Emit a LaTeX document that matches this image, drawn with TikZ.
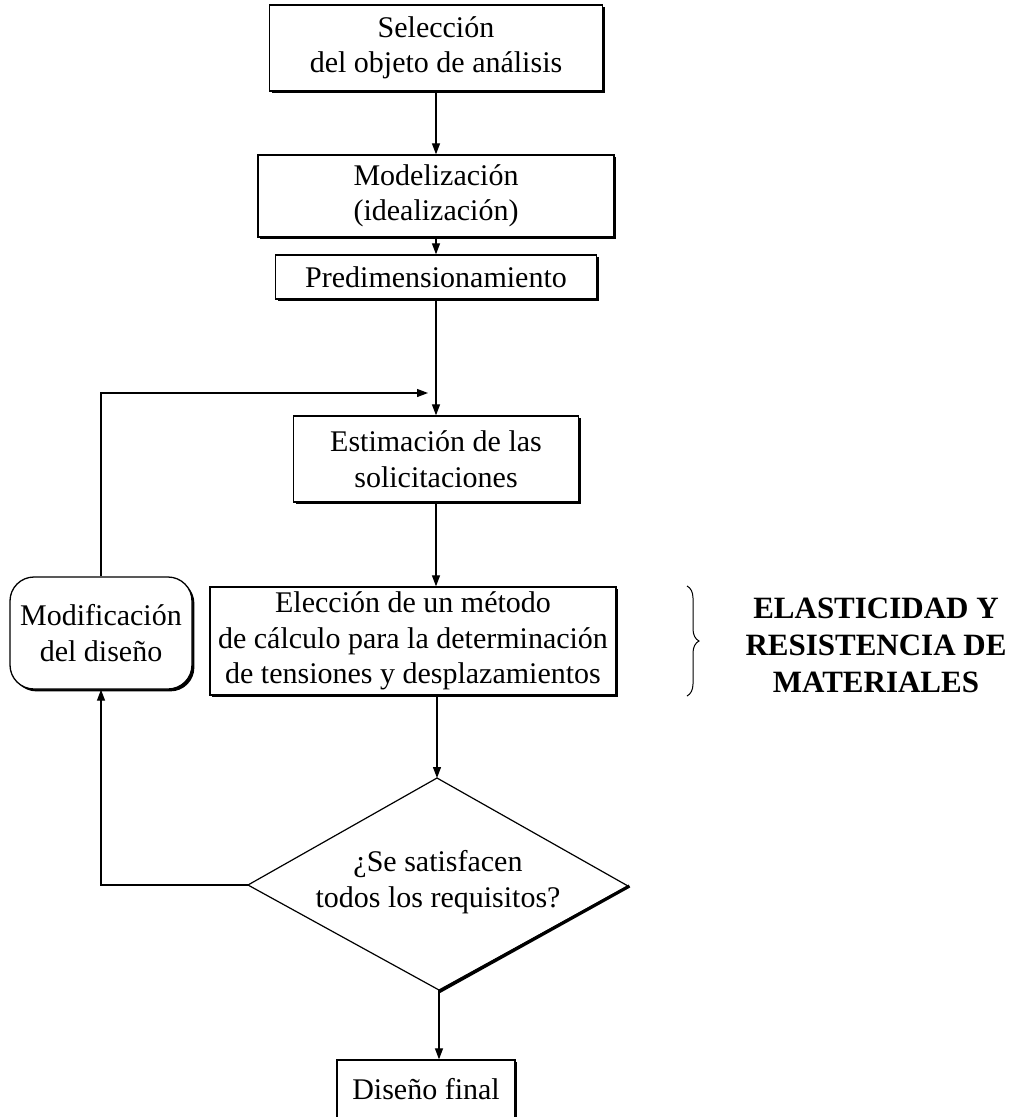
\documentclass[tikz,border=0pt]{standalone}
\usepackage{fontspec}
\setmainfont{Liberation Serif}
\usetikzlibrary{arrows.meta,decorations.pathreplacing,shadows}
\begin{document}
\begin{tikzpicture}[x=1pt,y=-1pt,
  every node/.style={font=\fontsize{30}{35.5}\selectfont},
  boxshadow/.style={drop shadow={shadow xshift=2.4pt,shadow yshift=-2.4pt,opacity=1,fill=black}},
  stepbox/.style={draw,fill=white,line width=1.3pt,inner sep=0pt,align=center,boxshadow},
  roundbox/.style={draw,fill=white,line width=1.3pt,inner sep=0pt,align=center,rounded corners=24pt,boxshadow},
  decisionline/.style={line width=1.2pt,line join=miter},
  arr/.style={line width=1.2pt,-{Triangle[length=11pt,width=8pt]}},
  bracestyle/.style={line width=1pt,decorate,decoration={brace,amplitude=12pt}}]
\useasboundingbox (0,0) rectangle (1009,1117);

\node[stepbox,minimum width=333pt,minimum height=86pt] (sel) at (436,48) {Selección\\del objeto de análisis};
\node[stepbox,minimum width=356pt,minimum height=82pt] (mod) at (436,196) {Modelización\\(idealización)};
\node[stepbox,minimum width=321pt,minimum height=44pt] (pre) at (436,277) {Predimensionamiento};
\node[stepbox,minimum width=285pt,minimum height=86pt] (est) at (436,459) {Estimación de las\\solicitaciones};
\node[stepbox,minimum width=406pt,minimum height=108pt] (ele) at (413,641) {Elección de un método\\de cálculo para la determinación\\de tensiones y desplazamientos};
\node[roundbox,minimum width=182pt,minimum height=112pt] (mdf) at (101,633) {Modificación\\del diseño};
\coordinate (dt) at (437,778);
\coordinate (dl) at (248,885);
\coordinate (dr) at (628,886);
\coordinate (db) at (439,990);
\node (dec) at (438,882) [align=center] {¿Se satisfacen\\todos los requisitos?};
\draw[decisionline] (dt) -- (dr) -- (db) -- (dl) -- cycle;
\draw[line width=3.2pt] ([shift={(1.5pt,0pt)}]dr) -- ([shift={(0.5pt,-1.5pt)}]db);
\node[stepbox,minimum width=178pt,minimum height=58pt] (fin) at (426,1089) {Diseño final};
\node[font=\fontsize{31}{37}\selectfont\bfseries,align=center] (lbl) at (876,645) {ELASTICIDAD Y\\RESISTENCIA DE\\MATERIALES};

\coordinate (join) at (428,393);
\coordinate (bt) at (687,586);
\coordinate (bb) at (687,696);

\draw[arr] (sel.south) -- (mod.north);
\draw[arr] (mod.south) -- (pre.north);
\draw[arr] (pre.south) -- (est.north);
\draw[arr] (est.south) -- (est.south |- ele.north);
\draw[arr] (dt |- ele.south) -- (dt);
\draw[arr] (db) -- (db |- fin.north);
\draw[arr] (dl) -| (mdf.south);
\draw[arr] (mdf.north) |- (join);
\draw[bracestyle] (bt) -- (bb);
\end{tikzpicture}
\end{document}
